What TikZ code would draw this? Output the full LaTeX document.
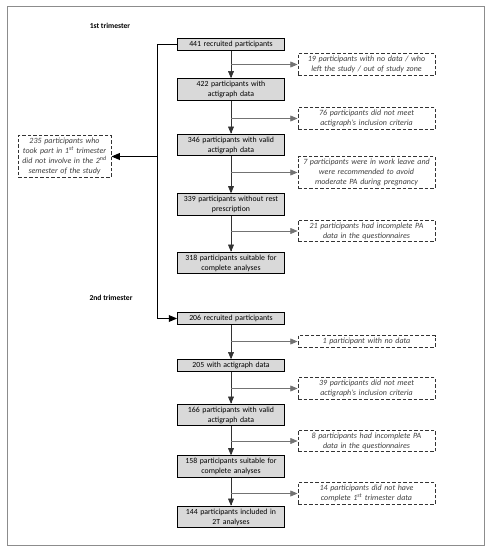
\documentclass[tikz,border=0pt]{standalone}
\usepackage{fontspec}
\setmainfont{Carlito}
\usetikzlibrary{arrows,shapes}
\definecolor{boxgray}{HTML}{D9D9D9}
\definecolor{textgray}{HTML}{404040}
\tikzstyle{stagebox}=[rectangle,draw=black,line width=0.9pt,fill=boxgray,text width=102pt,align=center,inner sep=2.5pt,font=\fontsize{7.8}{10}\selectfont]
\tikzstyle{exclbox}=[rectangle,draw=black!80,line width=1pt,dashed,dash pattern=on 3.5pt off 2pt,text width=132pt,align=center,inner sep=2.5pt,text=textgray,font=\fontsize{8}{10}\selectfont\itshape]
\tikzstyle{edge} = [draw,black!80,line width=0.6pt,-triangle 45]
\tikzstyle{branch} = [draw,black!55,line width=0.6pt,-triangle 45]
\tikzstyle{trunk} = [draw,black,line width=0.9pt,-triangle 45]
\tikzstyle{header} = [font=\fontsize{7.6}{10}\selectfont\bfseries]

\begin{document}
\begin{tikzpicture}[x=1pt,y=-1pt]

    \useasboundingbox[fill=white] (0,0) rectangle (491,550);
    \draw[black!45,line width=1pt] (7,6) rectangle (484,545);

    \node[header] (first) at (110,26) {1st trimester};
    \node[header] (second) at (111,298) {2nd trimester};

     \foreach \y/\name/\txt in {44.5/s1/{441 recruited participants},
        89.5/s2/{422 participants with\\ actigraph data},
        145/s3/{346 participants with valid\\ actigraph data},
        204.5/s4/{339 participants without rest\\ prescription},
        263/s5/{318 participants suitable for\\ complete analyses},
        318.5/t1/{206 recruited participants},
        365.5/t2/{205 with actigraph data},
        415/t3/{166 participants with valid\\ actigraph data},
        466.5/t4/{158 participants suitable for\\ complete analyses},
        517/t5/{144 participants included in\\ 2T analyses}}
        \node[stagebox] (\name) at (231,\y) {\txt};

     \foreach \y/\name/\txt in {64.5/e1/{19 participants with no data / who\\ left the study / out of study zone},
        118.5/e2/{76 participants did not meet\\ actigraph's inclusion criteria},
        172.5/e3/{7 participants were in work leave and\\ were recommended to avoid\\ moderate PA during pregnancy},
        231/e4/{21 participants had incomplete PA\\ data in the questionnaires},
        341.5/e5/{1 participant with no data},
        388.5/e6/{39 participants did not meet\\ actigraph's inclusion criteria},
        441/e7/{8 participants had incomplete PA\\ data in the questionnaires},
        493.5/e8/{14 participants did not have\\ complete 1\textsuperscript{st} trimester data}}
        \node[exclbox] (\name) at (366.5,\y) {\txt};

    \node[exclbox, text width=88pt] (side) at (64.5,156.5) {235 participants who\\ took part in 1\textsuperscript{st} trimester\\ did not involve in the 2\textsuperscript{nd}\\ semester of the study};

    % main flow
    \foreach \source/ \dest in {s1/s2, s2/s3, s3/s4, s4/s5, t1/t2, t2/t3, t3/t4, t4/t5}
        \path[edge] (\source) -- (\dest);

    % exclusions
    \foreach \source/ \dest in {s1/e1, s2/e2, s3/e3, s4/e4, t1/e5, t2/e6, t3/e7, t4/e8}
        \path[branch] (\source.south |- \dest.west) -- (\dest.west);

    % 1st -> 2nd trimester
    \coordinate (bend) at (157,44.5);
    \path[trunk, -] (s1.west) -- (bend);
    \path[trunk] (bend) |- (t1.west);
    \path[trunk] (bend |- side.east) -- (side.east);

   \end{tikzpicture}
\end{document}
